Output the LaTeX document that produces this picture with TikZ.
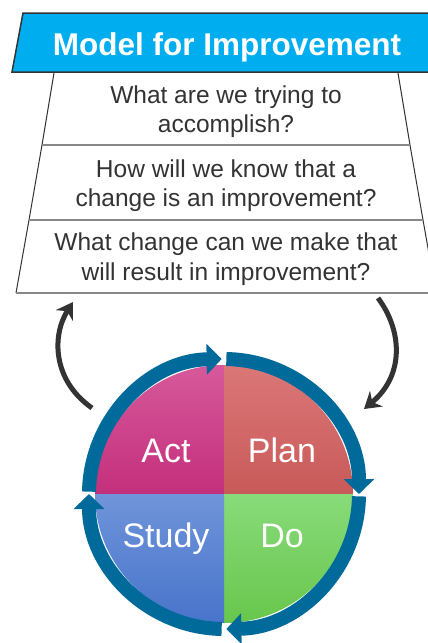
\documentclass[tikz,border=0pt]{standalone}
\usepackage{fontspec}
\setmainfont{Liberation Sans}
\usetikzlibrary{arrows.meta,calc}
\definecolor{banner}{HTML}{00AEEF}
\definecolor{ringblue}{HTML}{006A9B}
\definecolor{darkline}{HTML}{333333}
\definecolor{graydiv}{HTML}{888888}
\definecolor{bodytext}{HTML}{333333}
\definecolor{actT}{HTML}{D6599B}
\definecolor{actB}{HTML}{C42F7C}
\definecolor{planT}{HTML}{DB7777}
\definecolor{planB}{HTML}{C85A59}
\definecolor{studyT}{HTML}{6F94D9}
\definecolor{studyB}{HTML}{4874CB}
\definecolor{doT}{HTML}{88DB7A}
\definecolor{doB}{HTML}{68C64C}
\tikzset{
  bodyline/.style={anchor=base, text=bodytext, inner sep=0pt, font=\fontsize{24.5}{29}\selectfont},
  titleline/.style={anchor=base, text=white, inner sep=0pt, font=\bfseries\fontsize{31.5}{36}\selectfont},
  quadlabel/.style={anchor=base, text=white, inner sep=0pt, font=\fontsize{34}{40}\selectfont},
  edgeline/.style={draw=darkline, line width=1pt},
  divider/.style={draw=graydiv, line width=2pt},
  ringseg/.style={draw=ringblue, line width=14pt, -{Triangle[length=15pt,width=30pt]}},
  curvearrow/.style={draw=darkline, line width=5pt, -{Stealth[length=16pt,width=20pt]}}
}
\begin{document}
\begin{tikzpicture}[x=1pt,y=-1pt]
\clip (0,0) rectangle (428,643);
\fill[white] (0,0) rectangle (428,643);
% banner
\fill[banner] (23,13) -- (440,13) -- (440,72) -- (12,72) -- cycle;
\draw[draw=darkline, line width=1.5pt] (440,13) -- (23,13) -- (12,72) -- (440,72);
% trapezoid of questions
\draw[edgeline] (54,73) -- (42,145) -- (29,220) -- (16,293);
\draw[edgeline] (398,73) -- (410,145) -- (423,220) -- (436,293);
\draw[divider] (42,145) -- (410,145);
\draw[divider] (29,220) -- (423,220);
\draw[divider] (16,293) -- (440,293);
% texts
\node[titleline] (title) at (227,55) {Model for Improvement};
\node[bodyline] (q1a) at (226,103) {What are we trying to};
\node[bodyline] (q1b) at (226,132) {accomplish?};
\node[bodyline] (q2a) at (226,177) {How will we know that a};
\node[bodyline] (q2b) at (226,206) {change is an improvement?};
\node[bodyline] (q3a) at (226,250) {What change can we make that};
\node[bodyline] (q3b) at (226,280) {will result in improvement?};
% PDSA circle
\coordinate (C) at (224,494);
\shade[top color=actT, bottom color=actB] (C) -- ++(-129,0) arc[start angle=180, end angle=270, radius=129] -- cycle;
\shade[top color=planT, bottom color=planB] (C) -- ++(0,-129) arc[start angle=270, end angle=360, radius=129] -- cycle;
\shade[top color=doT, bottom color=doB] (C) -- ++(129,0) arc[start angle=0, end angle=90, radius=129] -- cycle;
\shade[top color=studyT, bottom color=studyB] (C) -- ++(0,129) arc[start angle=90, end angle=180, radius=129] -- cycle;
% ring segments (clockwise on the page = increasing angle)
\draw[ringseg] ($(C)+(181:135)$) arc[start angle=181, end angle=269, radius=135];
\draw[ringseg] ($(C)+(271:135)$) arc[start angle=271, end angle=360, radius=135];
\draw[ringseg] ($(C)+(1:135)$) arc[start angle=1, end angle=89, radius=135];
\draw[ringseg] ($(C)+(91:135)$) arc[start angle=91, end angle=180, radius=135];
\node[quadlabel] (act) at (166,462) {Act};
\node[quadlabel] (plan) at (282,462) {Plan};
\node[quadlabel] (study) at (166,547) {Study};
\node[quadlabel] (do) at (282,547) {Do};
% curved arrows
\coordinate (lt) at (92,408);
\coordinate (lh) at (73,302);
\coordinate (rt) at (378,298);
\coordinate (rh) at (364,409);
\draw[curvearrow] (lt) .. controls (52,380) and (52,335) .. (lh);
\draw[curvearrow] (rt) .. controls (402,330) and (405,375) .. (rh);
\end{tikzpicture}
\end{document}
